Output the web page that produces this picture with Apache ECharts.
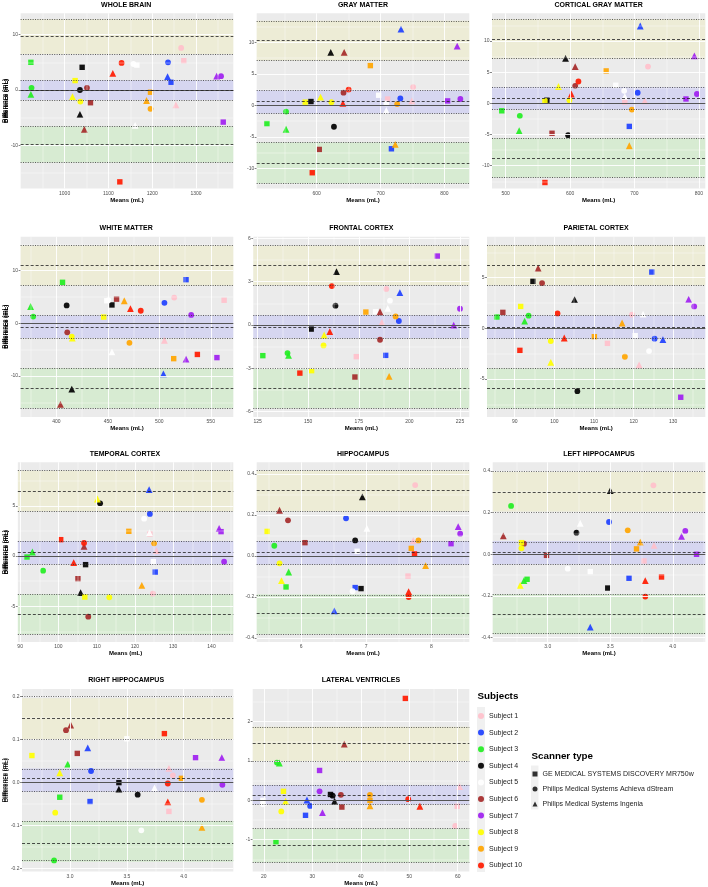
<!DOCTYPE html>
<html>
<head>
<meta charset="utf-8">
<script src="https://cdn.jsdelivr.net/npm/echarts@6/dist/echarts.min.js"></script>
<style>
    html, body { margin: 0; padding: 0; background: #fff; }
    #chart { width: 708px; height: 887px; }
</style>
</head>
<body>
<div id="chart"></div>
<script>
// Sujets et scanners
const subjects = ['Subject 1', 'Subject 2', 'Subject 3', 'Subject 4', 'Subject 5',
    'Subject 6', 'Subject 7', 'Subject 8', 'Subject 9', 'Subject 10'];
const subjectColors = ['#FFC0CB', '#1E40FF', '#22EE22', '#000000', '#FFFFFF',
    '#A52A2A', '#A020F0', '#FFFF00', '#FFA500', '#FF1A00'];
const scanners = ['GE MEDICAL SYSTEMS DISCOVERY MR750w',
    'Philips Medical Systems Achieva dStream',
    'Philips Medical Systems Ingenia'];
const scannerSymbols = ['rect', 'circle', 'triangle'];

// points : [sujet, scanner (0 GE, 1 Achieva, 2 Ingenia), moyenne, différence]
const wholeBrain = [
    [1,1,1266,7.6],[1,0,1272,5.3],[1,2,1254,-2.7],
    [2,1,1236,5.0],[2,2,1235,2.4],[2,0,1243,1.4],
    [3,0,923,5.0],[3,1,924.5,0.4],[3,2,923,-0.8],
    [4,0,1040,4.1],[4,1,1035,0],[4,2,1035,-4.4],
    [5,1,1157,4.7],[5,0,1165,4.5],[5,2,1161,-6.4],
    [6,1,1051,0.4],[6,0,1059,-2.3],[6,2,1045,-7.1],
    [7,2,1347,2.5],[7,1,1357,2.5],[7,0,1362,-5.8],
    [8,0,1024,1.7],[8,2,1018,-1.2],[8,1,1036,-2.1],
    [9,0,1196,-0.4],[9,2,1187,-1.9],[9,1,1196,-3.4],
    [10,2,1110,3.0],[10,1,1130,4.9],[10,0,1126,-16.6]
];
const grayMatter = [
    [1,0,711,1.0],[1,1,751,2.9],[1,2,749,0.7],
    [2,1,731,1.1],[2,2,732,12.1],[2,0,717,-6.9],
    [3,0,522,-2.9],[3,1,552,-1.0],[3,2,552,-3.8],
    [4,0,591,0.6],[4,1,627,-3.4],[4,2,622,8.4],
    [5,0,697,1.6],[5,1,709,0.3],[5,2,709,-0.8],
    [6,0,604,-7.0],[6,1,642,2.0],[6,2,643,8.4],
    [7,0,805,0.7],[7,1,825,1.0],[7,2,820,9.4],
    [8,0,582,0.5],[8,2,606,1.3],[8,1,623,0.5],
    [9,0,684,6.3],[9,1,726,0.2],[9,2,723,-6.2],
    [10,0,593,-10.7],[10,1,650,2.5],[10,2,641,0.3]
];
const corticalGray = [
    [1,0,685,0.2],[1,1,721,5.9],[1,2,716,0.4],
    [2,1,705,1.7],[2,2,709,12.4],[2,0,692,-3.7],
    [3,0,494,-1.2],[3,1,522,-2.0],[3,2,521,-4.4],
    [4,0,564,0.5],[4,1,597,-5.1],[4,2,593,7.2],
    [5,0,671,2.9],[5,1,684,2.0],[5,2,685,1.1],
    [6,0,572,-4.8],[6,1,608,2.8],[6,2,608,5.9],
    [7,0,780,0.7],[7,1,797,1.5],[7,2,793,7.6],
    [8,0,561,0.4],[8,2,582,2.7],[8,1,599,0.5],
    [9,0,656,5.2],[9,1,696,-1.0],[9,2,692,-6.8],
    [10,0,561,-12.7],[10,2,602,1.5],[10,1,613,3.5]
];
const whiteMatter = [
    [1,1,514.5,4.9],[1,2,505,-3.2],[1,0,563,4.4],
    [2,1,505,3.9],[2,0,526,8.3],[2,2,504,-9.6],
    [3,2,375,3.2],[3,1,377.5,1.3],[3,0,406,7.8],
    [4,1,410,3.4],[4,2,415,-12.5],[4,0,454,3.5],
    [5,1,450.5,4.4],[5,2,454,-5.4],[5,0,449,4.3],
    [6,1,410.6,-1.7],[6,2,404,-15.4],[6,0,458.5,4.6],
    [7,1,531,1.6],[7,2,526,-6.8],[7,0,556,-6.5],
    [8,1,415,-2.5],[8,0,446,1.2],[8,2,415.5,-2.8],
    [9,2,466,4.3],[9,1,471,-3.7],[9,0,514,-6.7],
    [10,2,472,2.8],[10,1,482,2.4],[10,0,537,-5.9]
];
const frontalCortex = [
    [1,0,173.8,-2.19],[1,2,186.4,0.18],[1,1,188.6,2.5],
    [2,0,188.3,-2.1],[2,1,194.8,0.28],[2,2,195.3,2.24],
    [3,0,127.6,-2.12],[3,1,139.8,-1.94],[3,2,140.3,-2.1],
    [4,0,151.5,-0.28],[4,1,163.5,1.34],[4,2,164,3.7],
    [5,0,183.3,0.92],[5,1,190.4,1.69],[5,2,189.3,1.15],
    [6,0,173.1,-3.6],[6,2,185.5,0.92],[6,1,185.5,-1.02],
    [7,0,213.8,4.78],[7,2,221.9,0],[7,1,225,1.13],
    [8,0,151.7,-3.16],[8,1,157.6,-1.41],[8,2,157.9,-0.69],
    [9,0,178.5,0.9],[9,1,193.2,0.6],[9,2,190,-3.56],
    [10,0,145.9,-3.33],[10,2,160.7,-0.46],[10,1,161.7,2.7]
];
const parietalCortex = [
    [1,0,113.4,-1.48],[1,1,119.6,1.35],[1,2,121.4,-3.6],
    [2,0,124.6,5.56],[2,1,125.3,-1.02],[2,2,127.4,-1.12],
    [3,0,85.5,1.12],[3,2,92.5,0.72],[3,1,93.5,1.25],
    [4,0,94.6,4.64],[4,2,105.1,2.83],[4,1,105.8,-6.2],
    [5,2,122.4,1.41],[5,0,120.4,-0.72],[5,1,123.9,-2.24],
    [6,0,87,1.58],[6,2,95.9,5.95],[6,1,96.9,4.47],
    [7,2,133.9,2.86],[7,1,135.3,2.17],[7,0,131.9,-6.8],
    [8,0,91.5,2.17],[8,1,99.1,-1.25],[8,2,99.1,-3.36],
    [9,0,110.1,-0.82],[9,2,117.1,0.53],[9,1,117.8,-2.8],
    [10,0,91.3,-2.17],[10,1,100.8,1.48],[10,2,102.5,-0.95]
];
const temporalCortex = [
    [1,2,125.6,0.53],[1,1,124.7,-3.75],[1,0,123.9,2.2],
    [2,2,123.7,6.61],[2,1,123.9,4.19],[2,0,125.3,-1.6],
    [3,0,91.8,-0.1],[3,2,93.2,0.4],[3,1,96,-1.46],
    [4,0,107.1,-0.86],[4,2,105.8,-3.65],[4,1,110.9,5.25],
    [5,1,122.4,3.72],[5,0,124.8,-0.56],[5,2,123.8,2.33],
    [6,0,105.1,-2.26],[6,2,106.7,0.96],[6,1,107.8,-6.05],
    [7,2,142,2.76],[7,0,142.5,2.43],[7,1,143.3,-0.56],
    [8,0,106.9,-4.09],[8,2,110.2,5.68],[8,1,113.3,-4.12],
    [9,0,118.4,2.46],[9,1,125,1.26],[9,2,121.8,-2.92],
    [10,0,100.6,1.63],[10,2,104,-0.66],[10,1,106.7,1.3]
];
const hippocampus = [
    [1,1,7.75,0.346],[1,2,7.72,0.075],[1,0,7.64,-0.098],
    [2,2,6.51,-0.268],[2,1,6.69,0.184],[2,0,6.83,-0.154],
    [3,1,5.59,0.05],[3,2,5.81,-0.078],[3,0,5.77,-0.151],
    [4,1,6.83,0.076],[4,0,6.92,-0.159],[4,2,6.94,0.288],
    [5,0,6.86,0.023],[5,1,6.79,-0.172],[5,2,7.01,0.135],
    [6,2,5.67,0.223],[6,1,5.8,0.174],[6,0,6.06,0.065],
    [7,0,8.3,0.06],[7,2,8.41,0.143],[7,1,8.44,0.109],
    [8,0,5.48,0.12],[8,1,5.67,-0.036],[8,2,5.7,-0.12],
    [9,1,7.8,0.076],[9,0,7.69,0.037],[9,2,7.91,-0.047],
    [10,0,7.74,0.01],[10,2,7.65,-0.174],[10,1,7.65,-0.2]
];
const leftHippocampus = [
    [1,1,3.845,0.331],[1,2,3.85,0.043],[1,0,3.77,-0.032],
    [2,2,3.34,-0.35],[2,1,3.49,0.155],[2,0,3.65,-0.115],
    [3,1,2.707,0.232],[3,2,2.81,-0.126],[3,0,2.835,-0.12],
    [4,1,3.23,0.104],[4,0,3.48,-0.162],[4,2,3.5,0.306],
    [5,1,3.16,-0.069],[5,2,3.26,0.149],[5,0,3.34,-0.083],
    [6,2,2.645,0.088],[6,1,2.81,0.051],[6,0,2.99,-0.005],
    [7,2,4.07,0.086],[7,1,4.1,0.112],[7,0,4.19,0.0],
    [8,0,2.79,0.056],[8,1,2.79,0.029],[8,2,2.78,-0.149],
    [9,1,3.64,0.115],[9,2,3.74,0.058],[9,0,3.71,0.026],
    [10,2,3.78,-0.126],[10,1,3.78,-0.203],[10,0,3.91,-0.109]
];
const rightHippocampus = [
    [1,2,3.87,0.033],[1,1,3.905,0.017],[1,0,3.87,-0.067],
    [2,2,3.156,0.081],[2,1,3.185,0.027],[2,0,3.176,-0.044],
    [3,2,2.98,0.043],[3,0,2.91,-0.034],[3,1,2.86,-0.181],
    [4,0,3.43,0.0],[4,2,3.43,-0.015],[4,1,3.595,-0.028],
    [5,0,3.5,0.102],[5,1,3.627,-0.111],[5,2,3.743,-0.012],
    [6,1,2.965,0.122],[6,2,3.006,0.134],[6,0,3.064,0.068],
    [7,0,4.104,0.058],[7,2,4.335,0.058],[7,1,4.34,-0.005],
    [8,0,2.665,0.063],[8,2,2.91,0.023],[8,1,2.87,-0.07],
    [9,0,3.98,0.01],[9,1,4.16,-0.04],[9,2,4.16,-0.104],
    [10,0,3.83,0.114],[10,1,3.86,-0.002],[10,2,3.86,-0.045]
];
const lateralVentricles = [
    [1,0,59.9,-0.15],[1,1,59.5,-0.65],[1,2,60.4,0.35],
    [2,0,28.6,-0.38],[2,2,28.9,0.01],[2,1,29.55,-0.14],
    [3,1,22.7,0.96],[3,2,23.2,0.95],[3,0,22.5,-1.05],
    [4,0,33.75,0.15],[4,1,34.2,0.12],[4,2,34.6,-0.02],
    [5,0,19.8,0.0],[5,1,19.8,-0.1],[5,2,19.9,-0.05],
    [6,1,35.9,0.14],[6,0,36.1,-0.17],[6,2,36.6,1.43],
    [7,0,31.5,0.76],[7,1,31.5,0.23],[7,2,32.1,-0.31],
    [8,0,24.05,0.23],[8,2,24.5,-0.02],[8,1,23.6,-0.28],
    [9,1,41.9,0.14],[9,0,41.9,0.0],[9,2,41.9,-0.14],
    [10,0,49.2,2.59],[10,1,49.8,0.03],[10,2,52.2,-0.15]
];

// limites Bland-Altman : [IC bas LoA inf, LoA inf, IC haut LoA inf, IC bas biais, biais, IC haut biais, IC bas LoA sup, LoA sup, IC haut LoA sup]
const wholeBrainLim = [-13.1, -9.8, -6.6, -1.8, -0.08, 1.75, 6.5, 9.64, 12.8];
const grayMatterLim = [-12.4, -9.2, -5.9, -1.3, 0.6, 2.4, 7.1, 10.3, 13.4];
const corticalGrayLim = [-11.9, -8.8, -5.6, -1.0, 0.8, 2.6, 7.2, 10.3, 13.5];
const whiteMatterLim = [-16.1, -12.3, -8.5, -2.8, -0.7, 1.5, 7.2, 11.0, 14.8];
const frontalLim = [-5.77, -4.36, -3.0, -0.92, -0.14, 0.67, 2.75, 4.13, 5.5];
const parietalLim = [-7.9, -5.9, -3.95, -1.0, 0.13, 1.28, 4.25, 6.2, 8.2];
const temporalLim = [-7.8, -5.81, -3.82, -0.83, 0.37, 1.5, 4.45, 6.48, 8.5];
const hippocampusLim = [-0.382, -0.285, -0.187, -0.041, 0.018, 0.073, 0.218, 0.317, 0.416];
const leftHippoLim = [-0.384, -0.288, -0.192, -0.048, 0.01, 0.064, 0.205, 0.303, 0.4];
const rightHippoLim = [-0.184, -0.137, -0.089, -0.021, 0.0054, 0.033, 0.1015, 0.15, 0.196];
const ventriclesLim = [-1.58, -1.15, -0.72, -0.1, 0.144, 0.39, 1.0, 1.44, 1.87];

// graduations
const wholeBrainXTicks = [1000, 1100, 1200, 1300];
const grayMatterXTicks = [600, 700, 800];
const corticalGrayXTicks = [500, 600, 700, 800];
const whiteMatterXTicks = [400, 450, 500, 550];
const frontalXTicks = [125, 150, 175, 200, 225];
const parietalXTicks = [90, 100, 110, 120, 130];
const temporalXTicks = [90, 100, 110, 120, 130, 140];
const hippocampusXTicks = [6, 7, 8];
const leftHippoXTicks = [3.0, 3.5, 4.0];
const rightHippoXTicks = [3.0, 3.5, 4.0];
const ventriclesXTicks = [20, 30, 40, 50, 60];

const tick10 = [-10, 0, 10];
const tick5 = [-10, -5, 0, 5, 10];

// panneaux : données + étendues + boîte [gauche, haut, droite, bas] en px
const panels = [
    {title: 'WHOLE BRAIN', pts: wholeBrain, lim: wholeBrainLim, x: [899.6, 1385], xt: wholeBrainXTicks, y: [-17.8, 13.86], yt: tick10, box: [19, 13.3, 233.3, 188.5]},
    {title: 'GRAY MATTER', pts: grayMatter, lim: grayMatterLim, x: [506, 839], xt: grayMatterXTicks, y: [-13.2, 14.6], yt: tick5, box: [256.7, 13.3, 469.3, 188.5]},
    {title: 'CORTICAL GRAY MATTER', pts: corticalGray, lim: corticalGrayLim, x: [478.8, 810], xt: corticalGrayXTicks, y: [-13.66, 14.44], yt: tick5, box: [492, 13.3, 705.3, 188.5]},
    {title: 'WHITE MATTER', pts: whiteMatter, lim: whiteMatterLim, x: [365.3, 571.9], xt: whiteMatterXTicks, y: [-17.78, 16.46], yt: tick10, box: [19, 236.7, 233.3, 417]},
    {title: 'FRONTAL CORTEX', pts: frontalCortex, lim: frontalLim, x: [122.9, 229.6], xt: frontalXTicks, y: [-6.37, 6.12], yt: [-6, -3, 0, 3, 6], box: [253.3, 236.7, 469.3, 417]},
    {title: 'PARIETAL CORTEX', pts: parietalCortex, lim: parietalLim, x: [83, 138.1], xt: parietalXTicks, y: [-8.75, 9.05], yt: [-5, 0, 5], box: [487, 236.7, 705.3, 417]},
    {title: 'TEMPORAL CORTEX', pts: temporalCortex, lim: temporalLim, x: [89.4, 145.7], xt: temporalXTicks, y: [-8.57, 9.34], yt: [-5, 0, 5], box: [16.7, 462.3, 233.3, 642]},
    {title: 'HIPPOCAMPUS', pts: hippocampus, lim: hippocampusLim, x: [5.32, 8.58], xt: hippocampusXTicks, y: [-0.4195, 0.457], yt: [-0.4, -0.2, 0, 0.2, 0.4], yd: 1, box: [256.7, 462.3, 469.3, 642]},
    {title: 'LEFT HIPPOCAMPUS', pts: leftHippocampus, lim: leftHippoLim, x: [2.56, 4.26], xt: leftHippoXTicks, xd: 1, y: [-0.421, 0.4416], yt: [-0.4, -0.2, 0, 0.2, 0.4], yd: 1, box: [492.7, 462.3, 705.3, 642]},
    {title: 'RIGHT HIPPOCAMPUS', pts: rightHippocampus, lim: rightHippoLim, x: [2.578, 4.436], xt: rightHippoXTicks, xd: 1, y: [-0.207, 0.2178], yt: [-0.2, -0.1, 0, 0.1, 0.2], yd: 1, box: [19, 689, 233.3, 871.7]},
    {title: 'LATERAL VENTRICLES', pts: lateralVentricles, lim: ventriclesLim, x: [17.7, 62.4], xt: ventriclesXTicks, y: [-1.81, 2.83], yt: [-1, 0, 1, 2], box: [252.7, 689, 469.3, 871.7]}
];

const FONT = 'Liberation Sans';
// tailles des symboles par scanner (carré, rond, triangle)
const symbolSizes = [5.4, 5.8, 6.8];

// grille ggplot : lignes majeures + mineures au milieu
function gridValues(ticks, range) {
    const step = ticks.length > 1 ? ticks[1] - ticks[0] : 1;
    const minors = [];
    for (let v = ticks[0] - step / 2; v <= range[1]; v += step) {
        if (v >= range[0]) minors.push(v);
    }
    return {major: ticks.filter(v => v >= range[0] && v <= range[1]), minor: minors};
}

const grids = [], xAxes = [], yAxes = [], series = [], titles = [];

panels.forEach((p, i) => {
    const [l, t, r, b] = p.box;
    grids.push({left: l, top: t, width: r - l, height: b - t, show: true, backgroundColor: '#EBEBEB', borderWidth: 0});

    const xd = p.xd || 0, yd = p.yd || 0;
    xAxes.push({
        type: 'value', gridIndex: i, min: p.x[0], max: p.x[1],
        name: 'Means (mL)', nameLocation: 'middle', nameGap: 7.5,
        nameTextStyle: {fontSize: 6, fontWeight: 'bold', color: '#000', fontFamily: FONT},
        axisLine: {show: false},
        splitLine: {show: false},
        axisTick: {show: true, length: 2, customValues: p.xt, lineStyle: {color: '#333', width: 0.6}},
        axisLabel: {customValues: p.xt, fontSize: 5, color: '#4D4D4D', margin: 2.5, fontFamily: FONT,
            formatter: v => Number(v).toFixed(xd)}
    });
    yAxes.push({
        type: 'value', gridIndex: i, min: p.y[0], max: p.y[1],
        name: 'Difference (mL)', nameLocation: 'middle', nameGap: l - 9,
        nameTextStyle: {fontSize: 6, fontWeight: 'bold', color: '#000', fontFamily: FONT},
        axisLine: {show: false},
        splitLine: {show: false},
        axisTick: {show: true, length: 2, customValues: p.yt, lineStyle: {color: '#333', width: 0.6}},
        axisLabel: {customValues: p.yt, fontSize: 5, color: '#4D4D4D', margin: 2.5, fontFamily: FONT,
            formatter: v => Number(v).toFixed(yd)}
    });

    titles.push({
        text: p.title, left: (l + r) / 2, top: t - 12, textAlign: 'center', padding: 0,
        textStyle: {fontSize: 7, fontWeight: 'bold', color: '#000', fontFamily: FONT}
    });

    // lignes de grille blanches
    const gx = gridValues(p.xt, p.x), gy = gridValues(p.yt, p.y);
    const gridLines = [];
    gx.minor.forEach(v => gridLines.push({xAxis: v, lineStyle: {color: '#fff', width: 0.4, type: 'solid'}}));
    gy.minor.forEach(v => gridLines.push({yAxis: v, lineStyle: {color: '#fff', width: 0.4, type: 'solid'}}));
    gx.major.forEach(v => gridLines.push({xAxis: v, lineStyle: {color: '#fff', width: 0.9, type: 'solid'}}));
    gy.major.forEach(v => gridLines.push({yAxis: v, lineStyle: {color: '#fff', width: 0.9, type: 'solid'}}));
    series.push({
        type: 'line', xAxisIndex: i, yAxisIndex: i, data: [], silent: true, z: 1,
        markLine: {silent: true, symbol: ['none', 'none'], label: {show: false}, data: gridLines}
    });

    // bandes (IC) + lignes biais / limites
    const L = p.lim;
    const dotted = {type: [1, 1.4], color: '#333', width: 0.8};
    const dashed = {type: [3, 2], color: '#222', width: 0.8};
    series.push({
        type: 'line', xAxisIndex: i, yAxisIndex: i, data: [], silent: true, z: 2,
        markArea: {
            silent: true,
            data: [
                [{yAxis: L[0], itemStyle: {color: 'rgba(175,235,160,0.32)'}}, {yAxis: L[2]}],
                [{yAxis: L[3], itemStyle: {color: 'rgba(150,150,255,0.25)'}}, {yAxis: L[5]}],
                [{yAxis: L[6], itemStyle: {color: 'rgba(245,240,150,0.25)'}}, {yAxis: L[8]}]
            ]
        },
        markLine: {
            silent: true, symbol: ['none', 'none'], label: {show: false},
            data: [
                {yAxis: 0, lineStyle: {type: 'solid', color: '#555', width: 1}},
                {yAxis: L[0], lineStyle: dotted}, {yAxis: L[2], lineStyle: dotted},
                {yAxis: L[3], lineStyle: dotted}, {yAxis: L[5], lineStyle: dotted},
                {yAxis: L[6], lineStyle: dotted}, {yAxis: L[8], lineStyle: dotted},
                {yAxis: L[1], lineStyle: dashed}, {yAxis: L[4], lineStyle: dashed}, {yAxis: L[7], lineStyle: dashed}
            ]
        }
    });

    // points : une série par sujet
    subjects.forEach((name, s) => {
        const data = p.pts.filter(d => d[0] === s + 1).map(d => ({
            value: [d[2], d[3]],
            symbol: scannerSymbols[d[1]],
            symbolSize: symbolSizes[d[1]]
        }));
        series.push({
            type: 'scatter', name: name, xAxisIndex: i, yAxisIndex: i, z: 3,
            itemStyle: {color: subjectColors[s], opacity: 0.92},
            data: data
        });
    });
});

// séries vides pour la légende scanner
scanners.forEach((name, k) => {
    series.push({type: 'scatter', name: name, xAxisIndex: 0, yAxisIndex: 0, data: [],
        symbol: scannerSymbols[k], itemStyle: {color: '#000'}});
});

titles.push({text: 'Subjects', left: 477.5, top: 691, padding: 0,
    textStyle: {fontSize: 9.8, fontWeight: 'bold', color: '#000', fontFamily: FONT}});
titles.push({text: 'Scanner type', left: 531.5, top: 751, padding: 0,
    textStyle: {fontSize: 9.8, fontWeight: 'bold', color: '#000', fontFamily: FONT}});

const chart = echarts.init(document.getElementById('chart'), null, {renderer: 'canvas'});
chart.setOption({
    animation: false,
    backgroundColor: '#fff',
    title: titles,
    grid: grids,
    xAxis: xAxes,
    yAxis: yAxes,
    graphic: [
        {type: 'rect', shape: {x: 477, y: 707, width: 8, height: 165}, style: {fill: '#F0F0F0'}, silent: true},
        {type: 'rect', shape: {x: 531, y: 765.5, width: 7.5, height: 44}, style: {fill: '#F0F0F0'}, silent: true}
    ],
    legend: [
        {
            data: subjects, orient: 'vertical', left: 478, top: 712.5, icon: 'circle',
            itemWidth: 6, itemHeight: 6, itemGap: 9.6, selectedMode: false, padding: 0,
            textStyle: {fontSize: 7, color: '#1A1A1A', fontFamily: FONT}
        },
        {
            data: scanners.map((n, k) => ({name: n, icon: scannerSymbols[k]})),
            orient: 'vertical', left: 532.5, top: 770.5,
            itemWidth: 5, itemHeight: 5, itemGap: 8, selectedMode: false, padding: 0,
            textStyle: {fontSize: 7, color: '#1A1A1A', fontFamily: FONT}
        }
    ],
    series: series
});
</script>
</body>
</html>
